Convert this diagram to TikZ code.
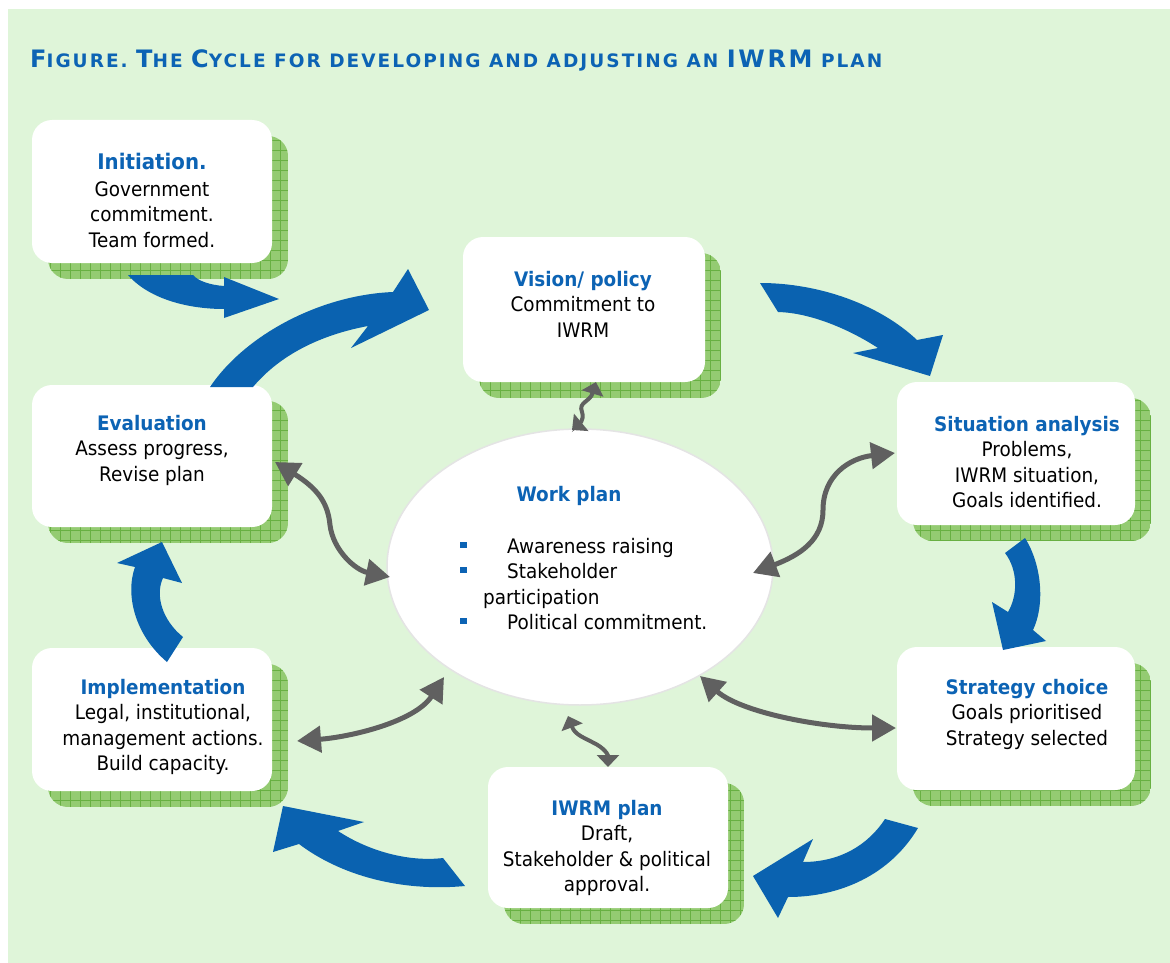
\documentclass[tikz,border=0pt]{standalone}
\usepackage{fontspec}
\setmainfont{DejaVu Sans}[FakeStretch=0.92]
\newfontfamily\titlefont{DejaVu Sans}[LetterSpace=11]
\usetikzlibrary{arrows.meta,shapes.geometric}
\definecolor{bg}{RGB}{223,245,217}
\definecolor{iblue}{RGB}{10,98,176}
\definecolor{tblue}{RGB}{12,99,180}
\definecolor{agrey}{RGB}{96,96,96}
\definecolor{shgreen}{RGB}{148,203,114}
\definecolor{shline}{RGB}{104,176,66}
\definecolor{elbord}{RGB}{228,228,228}
\newcommand\Cap[1]{{\fontsize{24}{24}\selectfont #1}}
\newcommand\hd[1]{\textcolor{tblue}{\bfseries #1}}
\tikzset{
  card/.style={fill=white, rounded corners=20pt, inner sep=0pt, draw=none},
  cardtext/.style={align=center, inner sep=0pt, anchor=north, font=\fontsize{20}{25.5}\selectfont},
  bodytext/.style={inner sep=0pt, anchor=base west, font=\fontsize{20}{25.5}\selectfont},
  bigarrow/.style={fill=iblue, draw=none},
  dbl/.style={draw=agrey, line width=5pt, {Triangle[length=24pt,width=26pt]}-{Triangle[length=24pt,width=26pt]}},
  dblsmall/.style={draw=agrey, line width=4pt, {Triangle[length=12pt,width=22pt]}-{Triangle[length=12pt,width=22pt]}},
  bul/.style={fill=tblue},
}
\newcommand\mkcard[5]{%
  \begin{scope}
    \clip[rounded corners=20pt] ({#2+16},{#3+16}) rectangle ({#4+16},{#5+16});
    \fill[shgreen] ({#2+16},{#3+16}) rectangle ({#4+16},{#5+16});
    \draw[shline, line width=0.6pt] ({#2+16},{#3+16}) grid[step=10pt] ({#4+16},{#5+16});
  \end{scope}
  \node[card, minimum width={(#4-#2)*1pt}, minimum height={(#5-#3)*1pt}] (#1) at ({(#2+#4)/2},{(#3+#5)/2}) {};
}
\begin{document}
\begin{tikzpicture}[x=1pt,y=-1pt]
\useasboundingbox (0,0) rectangle (1170,963);
\fill[white] (0,0) rectangle (1170,963);
\fill[bg] (8,9) rectangle (1170,963);

\node[anchor=base west, inner sep=0pt, text=tblue, font=\titlefont\bfseries\fontsize{18.5}{18.5}\selectfont] (title) at (30,68)
  {\Cap{F}IGURE. \Cap{T}HE \Cap{C}YCLE FOR DEVELOPING AND ADJUSTING AN \Cap{IWRM} PLAN};

% cards
\mkcard{init}{32}{120}{272}{263}
\mkcard{vision}{463}{237}{705}{382}
\mkcard{situ}{897}{382}{1135}{525}
\mkcard{eval}{32}{385}{272}{527}
\mkcard{impl}{32}{648}{272}{791}
\mkcard{strat}{897}{647}{1135}{790}
\mkcard{plan}{488}{767}{728}{908}

% centre ellipse
\node[ellipse, draw=elbord, line width=1.5pt, fill=white, minimum width=386pt, minimum height=276pt, inner sep=0pt] (work) at (580,567) {};

% card texts
\node[cardtext] (initT) at (152,151.15) {{\fontsize{21.5}{25.5}\selectfont\strut\hd{Initiation.}}\\[1.5pt] Government\\ commitment.\\ Team formed.};
\node[cardtext] (visionT) at (583,268.15) {\strut\hd{Vision/ policy}\\ Commitment to\\ IWRM};
\node[cardtext] (situT) at (1027,413.15) {\strut\hd{Situation analysis}\\ Problems,\\ IWRM situation,\\ Goals identified.};
\node[cardtext] (evalT) at (152,412.15) {\strut\hd{Evaluation}\\ Assess progress,\\ Revise plan};
\node[cardtext] (implT) at (163,676.15) {\strut\hd{Implementation}\\ Legal, institutional,\\ management actions.\\ Build capacity.};
\node[cardtext] (stratT) at (1027,676.15) {\strut\hd{Strategy choice}\\ Goals prioritised\\ Strategy selected};
\node[cardtext] (planT) at (607,797.15) {\strut\hd{IWRM plan}\\ Draft,\\ Stakeholder \& political\\ approval.};

% work plan text
\node[inner sep=0pt, anchor=base, font=\fontsize{20}{25.5}\selectfont] (wpT) at (569,501) {\hd{Work plan}};
\node[bodytext] (wp1) at (507,553) {Awareness raising};
\node[bodytext] (wp2) at (507,578) {Stakeholder};
\node[bodytext] (wp3) at (483,604) {participation};
\node[bodytext] (wp4) at (507,629) {Political commitment.};
\fill[bul] (460,542) rectangle (467,548);
\fill[bul] (460,567) rectangle (467,573);
\fill[bul] (460,618) rectangle (467,624);

% big blue cycle arrows
\fill[bigarrow] (128,275) .. controls (150,300) and (190,309) .. (224,309) -- (224,318) -- (279,299) -- (224,277) -- (224,286) .. controls (210,285) and (198,281) .. (193,275) -- cycle;
\fill[bigarrow] (210,387) .. controls (245,335) and (320,295) .. (393,292) -- (408,269) -- (429,310) -- (351,348) -- (368,326) .. controls (320,335) and (280,355) .. (253,387) -- cycle;
\fill[bigarrow] (760,283) .. controls (820,283) and (880,305) .. (917,340) -- (943,335) -- (930,376) -- (853,353) -- (878,348) .. controls (855,333) and (815,313) .. (778,312) -- cycle;
\fill[bigarrow] (1025,538) .. controls (1042,565) and (1045,605) .. (1033,630) -- (1046,641) -- (1003,650) -- (992,602) -- (1008,612) .. controls (1018,595) and (1018,570) .. (1005,553) -- cycle;
\fill[bigarrow] (918,828) .. controls (890,875) and (840,897) .. (788,897) -- (778,918) -- (753,876) -- (813,839) -- (803,862) .. controls (840,862) and (868,845) .. (885,819) -- cycle;
\fill[bigarrow] (465,886) .. controls (400,892) and (340,875) .. (299,844) -- (273,852) -- (283,806) -- (364,822) -- (338,831) .. controls (370,852) and (410,862) .. (443,858) -- cycle;
\fill[bigarrow] (167,662) .. controls (135,635) and (125,595) .. (135,567) -- (117,563) -- (162,542) -- (182,583) -- (163,578) .. controls (155,595) and (162,620) .. (183,637) -- cycle;

% grey double arrows
\coordinate (g1a) at (596,382);
\coordinate (g1b) at (572,430);
\coordinate (g2a) at (275,462);
\coordinate (g2b) at (390,577);
\coordinate (g3a) at (753,573);
\coordinate (g3b) at (895,453);
\coordinate (g4a) at (297,741);
\coordinate (g4b) at (444,677);
\coordinate (g5a) at (700,676);
\coordinate (g5b) at (896,728);
\coordinate (g6a) at (568,716);
\coordinate (g6b) at (608,767);
\draw[dblsmall] (g1a) .. controls (590,402) and (578,402) .. (582,412) .. controls (585,420) and (578,425) .. (g1b);
\draw[dbl] (g2a) .. controls (320,490) and (328,505) .. (330,525) .. controls (333,550) and (355,570) .. (g2b);
\draw[dbl] (g3a) .. controls (800,555) and (823,540) .. (823,510) .. controls (823,475) and (850,458) .. (g3b);
\draw[dbl] (g4a) .. controls (350,737) and (415,722) .. (g4b);
\draw[dbl] (g5a) .. controls (740,712) and (820,728) .. (g5b);
\draw[dblsmall] (g6a) .. controls (575,735) and (585,738) .. (592,742) .. controls (605,748) and (608,755) .. (g6b);
\end{tikzpicture}
\end{document}
